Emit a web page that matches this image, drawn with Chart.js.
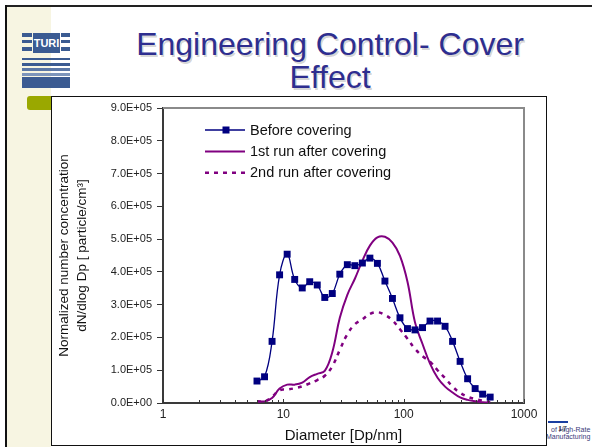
<!DOCTYPE html>
<html>
<head>
<meta charset="utf-8">
<script src="https://cdn.jsdelivr.net/npm/chart.js@4"></script>
<style>
  html, body { margin: 0; padding: 0; }
  body { width: 592px; height: 447px; position: relative; overflow: hidden; background: #fff;
         font-family: 'Liberation Sans', Arial, sans-serif; }
  .abs { position: absolute; }
  #topline { left: 6px; top: 5px; width: 586px; height: 2px; background: #222; }
  #leftline { left: 5px; top: 5px; width: 2px; height: 442px; background: #111; }
  #strip { left: 7px; top: 7px; width: 44px; height: 440px; background: #f7f5e2; }
  .logo { background: #3b5b92; }
  #turi { left: 33px; top: 33px; width: 27px; height: 20px; color: #fff; font-weight: bold;
          font-size: 11px; line-height: 20px; text-align: center; }
  #green { left: 27px; top: 96px; width: 40px; height: 14px; border-radius: 3px; background: #9aa800; }
  #title { left: 80px; top: 28px; width: 500px; text-align: center; font-size: 32px; line-height: 33px;
           color: #2e2e8f; text-shadow: 1.5px 1.5px 0 rgba(0,0,0,0.18); }
  #bluebar { left: 548px; top: 421px; width: 20px; height: 2px; background: #1a3ea0; }
  .foot { font-size: 7px; color: #3b3b7a; line-height: 7px; white-space: nowrap; }
  #wrap { left: 51px; top: 96px; width: 496px; height: 350px; background: #fff; }
  #frame { left: 51px; top: 96px; width: 496px; height: 350px; box-sizing: border-box;
           border: 1.5px solid #111; pointer-events: none; }
</style>
</head>
<body>
<div id="strip" class="abs"></div>
<div id="topline" class="abs"></div>
<div id="leftline" class="abs"></div>

<!-- logo -->
<div class="abs logo" style="left:22px;top:33px;width:10px;height:3.5px"></div>
<div class="abs logo" style="left:22px;top:39.5px;width:10px;height:3.5px"></div>
<div class="abs logo" style="left:22px;top:46.5px;width:10px;height:4px"></div>
<div class="abs logo" style="left:61px;top:33px;width:9px;height:3.5px"></div>
<div class="abs logo" style="left:61px;top:39.5px;width:9px;height:3.5px"></div>
<div class="abs logo" style="left:61px;top:46.5px;width:9px;height:4px"></div>
<div id="turi" class="abs logo">TURI</div>
<div class="abs logo" style="left:22px;top:58px;width:48px;height:2px"></div>
<div class="abs logo" style="left:22px;top:63px;width:48px;height:2.5px"></div>
<div class="abs logo" style="left:22px;top:68px;width:48px;height:2.5px;background:#5b77a6"></div>
<div class="abs logo" style="left:22px;top:73px;width:48px;height:3px;background:#7d95bb"></div>
<div class="abs logo" style="left:22px;top:77px;width:48px;height:11px"></div>

<div id="green" class="abs"></div>
<div id="title" class="abs">Engineering Control- Cover<br>Effect</div>

<div id="bluebar" class="abs"></div>
<div class="abs foot" style="left:551px;top:426px">of High-Rate</div>
<div class="abs foot" style="left:558px;top:425px;color:#222;font-size:8px">17</div>
<div class="abs foot" style="left:546px;top:433px">Manufacturing</div>

<div id="wrap" class="abs"><canvas id="chart" width="496" height="350"></canvas></div>
<div id="frame" class="abs"></div>

<script>
// particle diameter bins (nm)
const diameters = [6.04, 6.98, 8.06, 9.31, 10.76, 12.43, 14.36, 16.57, 19.14, 22.10, 25.52, 29.47,
    34.03, 39.30, 45.38, 52.40, 60.51, 69.87, 80.68, 93.16, 107.57, 124.21, 143.43, 165.62,
    191.24, 220.82, 254.98, 294.43, 339.97, 392.57, 453.30, 523.43];

// dN/dlog Dp [particle/cm3]
const beforeCovering = [67000, 80000, 188000, 391000, 454000, 377000, 351000, 370000, 360000, 322000,
    334000, 393000, 422000, 419000, 427000, 442000, 426000, 372000, 319000, 260000, 227000, 223000,
    230000, 250000, 250000, 234000, 188000, 127000, 74000, 44000, 27000, 18000];
const firstRun = [5000, 5000, 15000, 44000, 56000, 56000, 62000, 79000, 89000, 98000, 155000, 260000,
    330000, 379000, 434000, 480000, 505000, 507000, 489000, 449000, 370000, 246000, 180000, 120000,
    77000, 50000, 32000, 17000, 9500, 5000, 2500, 0];
const secondRun = [5000, 5000, 19000, 39000, 41000, 45000, 51000, 60000, 70000, 83000, 112000, 162000,
    210000, 240000, 255000, 272000, 277000, 269000, 252000, 225000, 196000, 165000, 143000, 126000,
    100000, 76000, 50000, 31000, 19000, 12000, 7000, 2500];

const seriesLabels = ["Before covering", "1st run after covering", "2nd run after covering"];

// axis ticks
const xTickMarks = [1, 2, 3, 4, 5, 6, 7, 8, 9, 10, 20, 30, 40, 50, 60, 70, 80, 90,
    100, 200, 300, 400, 500, 600, 700, 800, 900, 1000];
const xTickLabels = [1, 10, 100, 1000];
const yMin = 0, yMax = 900000, yStep = 100000;

Chart.defaults.font.family = "'Liberation Sans', Arial, sans-serif";
Chart.defaults.color = "#222";

function sci(v) {
    const parts = v.toExponential(1).split("e");
    const e = parseInt(parts[1], 10);
    return parts[0] + "E" + (e < 0 ? "-" : "+") + String(Math.abs(e)).padStart(2, "0");
}

const toPoints = arr => arr.map((y, i) => ({ x: diameters[i], y: y }));

// legend drawn inside the plot, plus frame and inward x tick marks
const extras = {
    id: "extras",
    afterDraw(chart) {
        const ctx = chart.ctx;
        const a = chart.chartArea;
        const xs = chart.scales.x;
        ctx.save();
        // top / right frame of the plot area
        ctx.strokeStyle = "#8a8a8a";
        ctx.lineWidth = 2;
        ctx.beginPath();
        ctx.moveTo(a.left, a.top);
        ctx.lineTo(a.right, a.top);
        ctx.lineTo(a.right, a.bottom);
        ctx.stroke();
        // small tick marks pointing up
        ctx.strokeStyle = "#333";
        ctx.lineWidth = 1;
        xs.ticks.forEach(t => {
            const px = Math.round(xs.getPixelForValue(t.value)) + 0.5;
            const len = xTickLabels.includes(t.value) ? 4 : 3;
            ctx.beginPath();
            ctx.moveTo(px, a.bottom);
            ctx.lineTo(px, a.bottom - len);
            ctx.stroke();
        });
        // legend
        ctx.font = "14.5px 'Liberation Sans', Arial, sans-serif";
        ctx.textBaseline = "middle";
        ctx.textAlign = "left";
        chart.data.datasets.forEach((ds, i) => {
            const y = 34 + i * 21.4;
            ctx.strokeStyle = ds.borderColor;
            ctx.lineWidth = ds.borderWidth;
            ctx.setLineDash(ds.borderDash || []);
            ctx.beginPath();
            ctx.moveTo(154, y);
            ctx.lineTo(194, y);
            ctx.stroke();
            ctx.setLineDash([]);
            if (ds.pointRadius > 0) {
                ctx.fillStyle = ds.pointBackgroundColor;
                ctx.fillRect(171.5, y - 3.5, 7, 7);
            }
            ctx.fillStyle = "#111";
            ctx.fillText(ds.label, 199, y + 0.5);
        });
        ctx.restore();
    }
};

new Chart(document.getElementById("chart"), {
    type: "line",
    data: {
        datasets: [
            {
                label: seriesLabels[0],
                data: toPoints(beforeCovering),
                borderColor: "#000080",
                borderWidth: 1.3,
                pointStyle: "rect",
                pointRadius: 4.9,
                pointBackgroundColor: "#000080",
                pointBorderColor: "#000080",
                pointBorderWidth: 0,
                tension: 0.4
            },
            {
                label: seriesLabels[1],
                data: toPoints(firstRun),
                borderColor: "#800080",
                borderWidth: 2,
                pointRadius: 0,
                tension: 0.4
            },
            {
                label: seriesLabels[2],
                data: toPoints(secondRun),
                borderColor: "#800080",
                borderWidth: 2.5,
                borderDash: [4, 5],
                pointRadius: 0,
                tension: 0.4
            }
        ]
    },
    options: {
        responsive: false,
        animation: false,
        devicePixelRatio: 1,
        layout: { padding: { left: 0, top: 12, right: 23, bottom: 0 } },
        plugins: {
            legend: { display: false },
            tooltip: { enabled: false }
        },
        scales: {
            x: {
                type: "logarithmic",
                min: 1,
                max: 1000,
                afterBuildTicks: scale => {
                    scale.ticks = xTickMarks.map(v => ({ value: v, major: xTickLabels.includes(v) }));
                },
                afterFit: scale => { scale.height = 43; },
                grid: { display: false, drawTicks: false, drawOnChartArea: false },
                border: { display: true, color: "#3a3a3a", width: 2 },
                ticks: {
                    autoSkip: false,
                    maxRotation: 0,
                    padding: 4,
                    font: { size: 12 },
                    color: "#222",
                    callback: v => (xTickLabels.includes(v) ? String(v) : "")
                },
                title: {
                    display: true,
                    text: "Diameter [Dp/nm]",
                    font: { size: 15 },
                    color: "#111",
                    padding: { top: 0, bottom: 1 }
                }
            },
            y: {
                min: yMin,
                max: yMax,
                afterFit: scale => { scale.width = 112; },
                grid: { drawOnChartArea: false, drawTicks: true, tickLength: 6, color: "#333", lineWidth: 1 },
                border: { display: true, color: "#3a3a3a", width: 2 },
                ticks: {
                    stepSize: yStep,
                    padding: 5,
                    font: { size: 11 },
                    color: "#222",
                    callback: v => sci(v)
                },
                title: {
                    display: true,
                    text: ["Normalized number concentration", "dN/dlog Dp [ particle/cm³]"],
                    font: { size: 13.5, lineHeight: 1.333 },
                    color: "#111",
                    padding: { top: 4, bottom: 0 }
                }
            }
        }
    },
    plugins: [extras]
});
</script>
</body>
</html>
